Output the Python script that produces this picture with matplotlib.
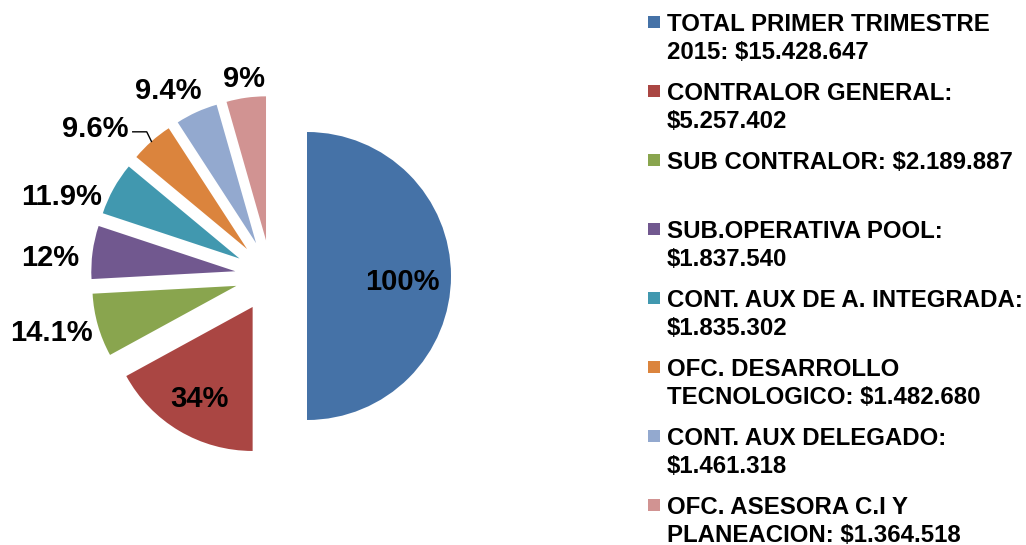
import numpy as np
import matplotlib
matplotlib.use("Agg")
import matplotlib.pyplot as plt
from matplotlib.patches import Rectangle

plt.rcParams['font.family'] = ['Liberation Sans', 'DejaVu Sans']

# montos del primer trimestre 2015
montos = [15428647, 5257402, 2189887, 1837540, 1835302, 1482680, 1461318, 1364518]
porcentajes = ["100%", "34%", "14.1%", "12%", "11.9%", "9.6%", "9.4%", "9%"]
leyenda = [
    "TOTAL PRIMER TRIMESTRE\n2015: \\$15.428.647",
    "CONTRALOR GENERAL:\n\\$5.257.402",
    "SUB CONTRALOR: \\$2.189.887",
    "SUB.OPERATIVA POOL:\n\\$1.837.540",
    "CONT. AUX DE A. INTEGRADA:\n\\$1.835.302",
    "OFC. DESARROLLO\nTECNOLOGICO: \\$1.482.680",
    "CONT. AUX DELEGADO:\n\\$1.461.318",
    "OFC. ASESORA C.I Y\nPLANEACION: \\$1.364.518",
]
colores = ["#4572A7", "#AA4643", "#89A54E", "#71588F",
           "#4198AF", "#DB843D", "#93A9CF", "#D19392"]

# desplazamiento de cada etiqueta desde el vertice de su porcion (en radios)
pos_etiqueta = [(0.66, -0.02), (-0.37, -0.62), (-1.285, -0.305), (-1.289, 0.113),
                (-1.235, 0.449), (-1.051, 0.856), (-0.613, 1.080), (-0.153, 1.144)]

W, H = 1026, 545
fig = plt.figure(figsize=(W / 100, H / 100), dpi=100)

# ejes del pastel: 1 unidad = 144 px
R = 144
ax_w = 620
cx, cy = 271, 269
ax = fig.add_axes([0, 0, ax_w / W, 1])
wedges, _ = ax.pie(montos, colors=colores, startangle=90, counterclock=False,
                   explode=[0.25] * len(montos),
                   wedgeprops=dict(linewidth=0))
ax.set_xlim(-cx / R, (ax_w - cx) / R)
ax.set_ylim(-cy / R, (H - cy) / R)
ax.set_aspect('equal')
ax.axis('off')

for i, w in enumerate(wedges):
    ang = np.deg2rad((w.theta1 + w.theta2) / 2)
    x0, y0 = w.center
    tx = x0 + pos_etiqueta[i][0] * w.r
    ty = y0 + pos_etiqueta[i][1] * w.r
    ax.text(tx, ty, porcentajes[i], ha='center', va='center_baseline',
            fontsize=21, fontweight='bold', color='black')
    if i == 5:
        # linea guia para 9.6%
        ex, ey = x0 + w.r * np.cos(ang), y0 + w.r * np.sin(ang)
        ax.plot([ex, tx + 51 / R, tx + 37 / R],
                [ey, ty - 6 / R, ty - 6 / R], color='black', lw=1)

# leyenda manual
y_inicio = 22
paso = 69
for i, txt in enumerate(leyenda):
    yp = y_inicio + i * paso
    fig.add_artist(Rectangle((648 / W, 1 - (yp + 6) / H), 12 / W, 12 / H,
                             transform=fig.transFigure, color=colores[i], lw=0))
    for j, linea in enumerate(txt.split("\n")):
        fig.text(667 / W, 1 - (yp + j * 28) / H, linea, ha='left',
                 va='center_baseline', fontsize=17.3, fontweight='bold',
                 color='black')

fig.savefig("out.png", dpi=100)
